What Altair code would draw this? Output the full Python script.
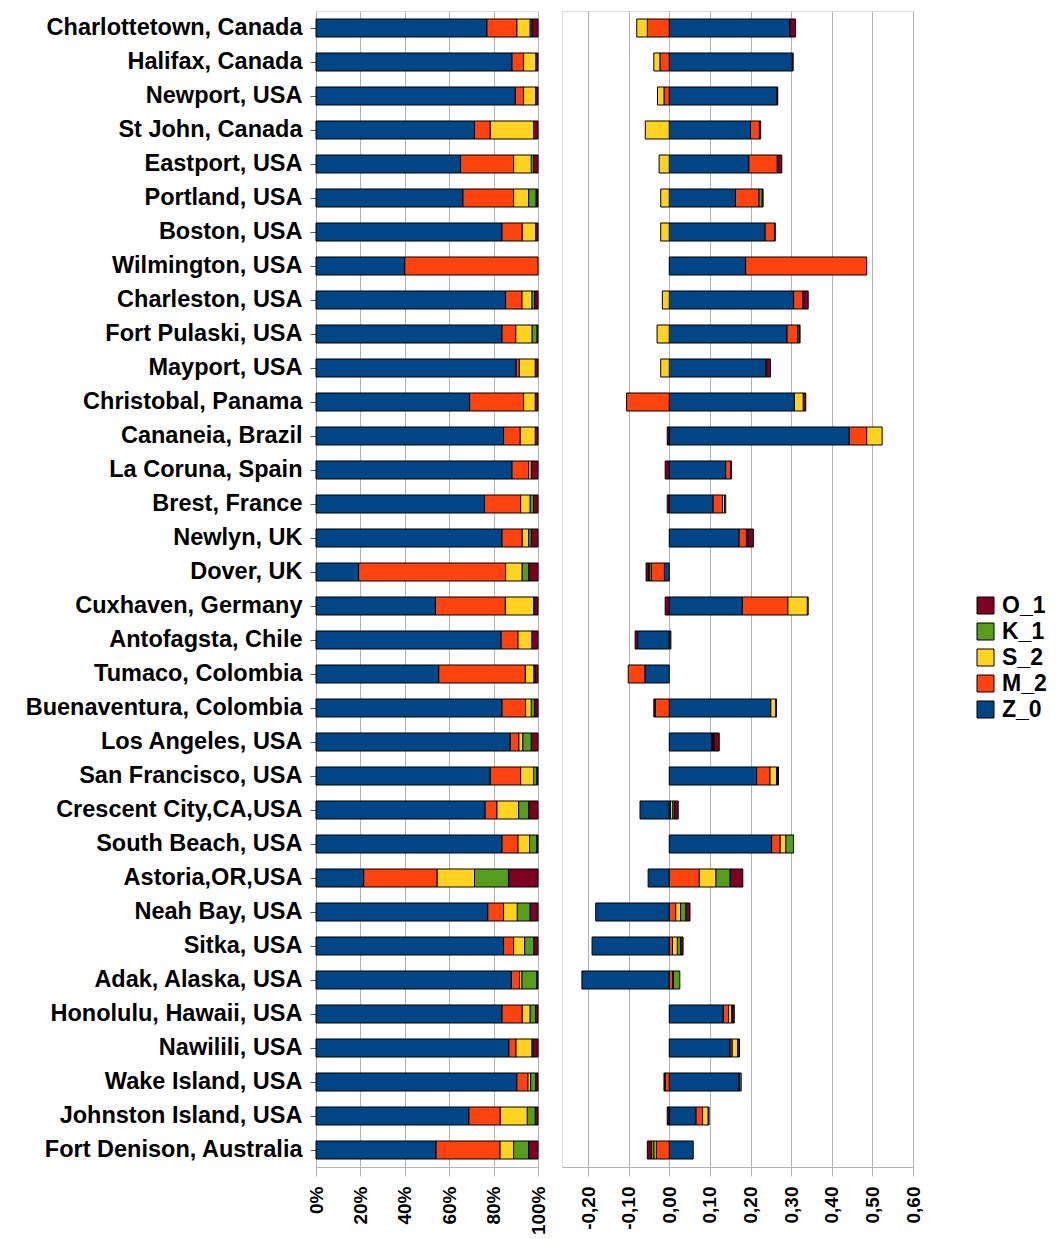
import altair as alt
import pandas as pd

stations = [
    "Charlottetown, Canada", "Halifax, Canada", "Newport, USA", "St John, Canada",
    "Eastport, USA", "Portland, USA", "Boston, USA", "Wilmington, USA",
    "Charleston, USA", "Fort Pulaski, USA", "Mayport, USA", "Christobal, Panama",
    "Cananeia, Brazil", "La Coruna, Spain", "Brest, France", "Newlyn, UK",
    "Dover, UK", "Cuxhaven, Germany", "Antofagsta, Chile", "Tumaco, Colombia",
    "Buenaventura, Colombia", "Los Angeles, USA", "San Francisco, USA",
    "Crescent City,CA,USA", "South Beach, USA", "Astoria,OR,USA", "Neah Bay, USA",
    "Sitka, USA", "Adak, Alaska, USA", "Honolulu, Hawaii, USA", "Nawilili, USA",
    "Wake Island, USA", "Johnston Island, USA", "Fort Denison, Australia",
]

components = ["Z_0", "M_2", "S_2", "K_1", "O_1"]
colors = ["#004586", "#ff420e", "#ffd320", "#579d1c", "#7e0021"]
legend_order = ["O_1", "K_1", "S_2", "M_2", "Z_0"]

# Left panel: share of each component (%)
share_Z = [77.0, 88.3, 89.8, 71.4, 65.1, 66.2, 83.8, 40.0, 85.4, 83.8, 90.2, 69.2,
           84.5, 88.3, 75.9, 83.8, 19.2, 53.8, 83.4, 55.3, 83.8, 87.5, 78.5, 76.2,
           83.8, 21.5, 77.4, 84.5, 88.0, 83.8, 86.9, 90.5, 68.9, 54.1]
share_M = [13.5, 5.2, 3.7, 7.1, 23.9, 22.8, 9.1, 60.0, 7.4, 6.2, 1.4, 24.3,
           7.5, 7.5, 16.3, 9.1, 66.2, 31.5, 7.6, 39.0, 10.6, 3.9, 13.7, 5.3,
           7.2, 33.1, 7.1, 4.5, 3.7, 9.1, 3.2, 5.0, 14.1, 28.8]
share_S = [6.0, 5.6, 5.5, 19.5, 8.0, 6.8, 6.1, 0.0, 4.5, 7.4, 7.2, 5.3,
           6.8, 1.2, 4.3, 2.9, 7.5, 12.7, 6.3, 3.9, 2.6, 1.8, 5.8, 9.8,
           5.2, 16.8, 6.2, 5.0, 1.1, 3.6, 7.2, 1.2, 12.2, 6.1]
share_K = [0.8, 0.0, 0.0, 0.0, 1.0, 3.4, 0.0, 0.0, 1.2, 2.2, 0.0, 0.0,
           0.0, 0.0, 1.5, 1.2, 3.0, 0.5, 0.0, 0.5, 1.5, 3.8, 1.5, 4.6,
           3.3, 15.3, 5.8, 4.2, 6.7, 2.4, 0.5, 2.3, 3.6, 6.8]
share_O = [2.7, 0.9, 1.0, 2.0, 2.0, 0.8, 1.0, 0.0, 1.5, 0.4, 1.2, 1.2,
           1.2, 3.0, 2.0, 3.0, 4.1, 1.5, 2.7, 1.3, 1.5, 3.0, 0.5, 4.1,
           0.5, 13.3, 3.5, 1.8, 0.5, 1.1, 2.2, 1.0, 1.2, 4.2]

# Right panel: signed contribution of each component
amp_Z = [0.297, 0.303, 0.265, 0.200, 0.196, 0.163, 0.236, 0.188, 0.306, 0.290, 0.237, 0.308,
         0.443, 0.139, 0.108, 0.172, -0.012, 0.180, -0.078, -0.060, 0.250, 0.104, 0.215, -0.072,
         0.252, -0.052, -0.181, -0.190, -0.215, 0.133, 0.150, 0.172, 0.066, 0.059]
amp_M = [-0.054, -0.023, -0.013, 0.022, 0.070, 0.058, 0.023, 0.298, 0.023, 0.026, 0.002, -0.105,
         0.043, 0.013, 0.023, 0.018, -0.032, 0.112, 0.002, -0.041, -0.034, 0.003, 0.033, 0.003,
         0.021, 0.074, 0.016, 0.008, 0.008, 0.013, 0.005, -0.010, 0.016, -0.032]
amp_S = [-0.026, -0.015, -0.016, -0.059, -0.025, -0.021, -0.021, 0.0, -0.017, -0.030, -0.021, 0.022,
         0.038, 0.001, 0.005, 0.002, -0.004, 0.048, 0.002, 0.0, 0.012, 0.001, 0.016, 0.006,
         0.014, 0.041, 0.012, 0.012, 0.002, 0.008, 0.013, 0.001, 0.014, -0.006]
amp_K = [0.0, 0.0, 0.0, 0.0, 0.002, 0.008, 0.0, 0.0, 0.002, 0.004, 0.0, 0.0,
         0.0, 0.0, 0.003, 0.002, -0.003, 0.002, 0.0, 0.0, 0.002, 0.002, 0.002, 0.004,
         0.019, 0.035, 0.013, 0.008, 0.016, 0.002, 0.001, 0.004, 0.002, -0.006]
amp_O = [0.014, 0.002, 0.002, 0.003, 0.009, 0.002, 0.002, 0.0, 0.011, 0.002, 0.010, 0.006,
         -0.005, -0.010, -0.005, 0.013, -0.006, -0.010, -0.006, 0.0, -0.004, 0.013, 0.003, 0.009,
         0.0, 0.031, 0.010, 0.006, 0.0, 0.004, 0.004, -0.003, -0.005, -0.010]

shares = [share_Z, share_M, share_S, share_K, share_O]
amps = [amp_Z, amp_M, amp_S, amp_K, amp_O]

rows_l, rows_r = [], []
for j, comp in enumerate(components):
    for i, st in enumerate(stations):
        if shares[j][i] != 0:
            rows_l.append({"station": st, "comp": comp, "ord": j, "v": shares[j][i]})
        if amps[j][i] != 0:
            rows_r.append({"station": st, "comp": comp, "ord": j, "v": amps[j][i]})
df_l = pd.DataFrame(rows_l)
df_r = pd.DataFrame(rows_r)

FONT = "Liberation Sans"
GRID = "#b3b3b3"
y_scale = alt.Scale(paddingInner=0.47, paddingOuter=0.235)

color = alt.Color(
    "comp:N",
    scale=alt.Scale(domain=components, range=colors),
    legend=alt.Legend(
        title=None, orient="none", legendX=658, legendY=583,
        values=legend_order, symbolType="square", symbolSize=289,
        symbolStrokeColor="black", symbolStrokeWidth=1, symbolOpacity=1,
        labelFont=FONT, labelFontSize=23, labelFontWeight="bold", labelColor="black",
        rowPadding=2, labelOffset=5,
    ),
)

x_axis_common = dict(
    title=None, labelAngle=270, labelFont=FONT, labelFontSize=19, labelFontWeight="bold",
    labelColor="black", tickSize=9, tickColor=GRID, domainColor=GRID, gridColor=GRID,
    labelPadding=10, grid=True,
)

left = alt.Chart(df_l).mark_bar(stroke="black", strokeWidth=1).encode(
    y=alt.Y("station:N", sort=stations, scale=y_scale,
            axis=alt.Axis(title=None, labelFont=FONT, labelFontSize=23.5, labelFontWeight="bold",
                          labelColor="black", tickSize=6, tickColor="#555555", domain=False,
                          grid=False, labelPadding=8, minExtent=302, maxExtent=302,
                          labelLimit=400)),
    x=alt.X("v:Q", stack="zero", scale=alt.Scale(domain=[0, 100], nice=False),
            axis=alt.Axis(values=[0, 20, 40, 60, 80, 100], labelExpr="datum.value + '%'",
                          **x_axis_common)),
    color=color,
    order=alt.Order("ord:Q"),
).properties(width=222, height=1156)

right = alt.Chart(df_r).mark_bar(stroke="black", strokeWidth=1).encode(
    y=alt.Y("station:N", sort=stations, scale=y_scale, axis=None),
    x=alt.X("v:Q", stack="zero", scale=alt.Scale(domain=[-0.264, 0.6], nice=False, zero=False),
            axis=alt.Axis(values=[-0.2, -0.1, 0.0, 0.1, 0.2, 0.3, 0.4, 0.5, 0.6],
                          labelExpr="replace(replace(format(datum.value, '.2f'), '.', ','), '\u2212', '-')",
                          **x_axis_common)),
    color=color,
    order=alt.Order("ord:Q"),
).properties(width=351, height=1156)

chart = alt.hconcat(left, right, spacing=12).resolve_scale(
    x="independent"
).properties(
    padding={"left": 5, "top": 2, "right": 0, "bottom": 0}
).configure_view(stroke=GRID).configure(background="white")

chart.save("out.html", embed_options={"renderer": "svg", "actions": False})
